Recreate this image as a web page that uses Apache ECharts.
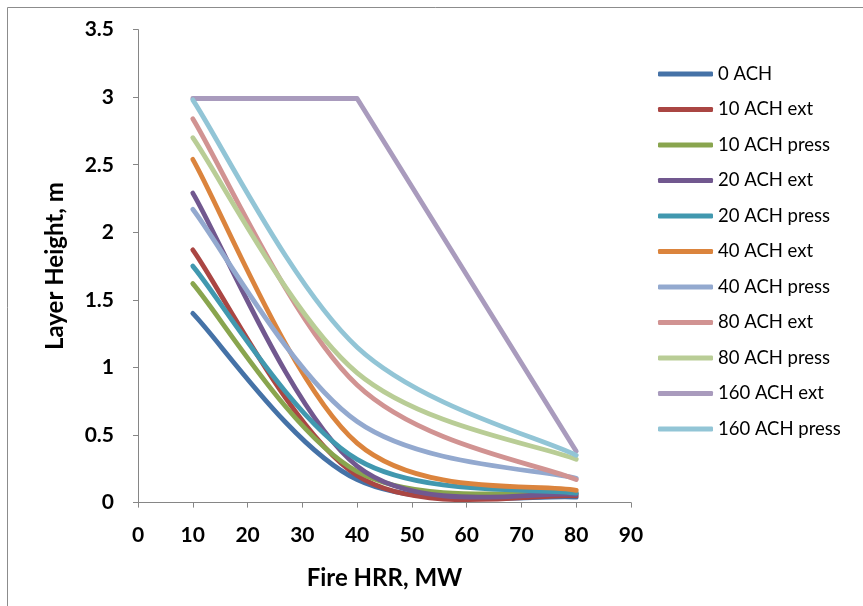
<!DOCTYPE html>
<html>
<head>
<meta charset="utf-8">
<script src="https://cdn.jsdelivr.net/npm/echarts@6/dist/echarts.min.js"></script>
<style>
html,body{margin:0;padding:0;background:#fff;}
#chart{width:863px;height:606px;}
</style>
</head>
<body>
<div id="chart"></div>
<script>
// Data
const hrr = [10, 40, 80];
const seriesNames = ['0 ACH', '10 ACH ext', '10 ACH press', '20 ACH ext', '20 ACH press',
  '40 ACH ext', '40 ACH press', '80 ACH ext', '80 ACH press', '160 ACH ext', '160 ACH press'];
const ach0 = [1.40, 0.17, 0.04];
const ach10ext = [1.87, 0.20, 0.05];
const ach10press = [1.62, 0.23, 0.07];
const ach20ext = [2.29, 0.27, 0.06];
const ach20press = [1.75, 0.32, 0.07];
const ach40ext = [2.54, 0.44, 0.09];
const ach40press = [2.17, 0.60, 0.18];
const ach80ext = [2.84, 0.87, 0.17];
const ach80press = [2.70, 0.96, 0.32];
const ach160ext = [2.99, 2.99, 0.38];
const ach160press = [2.98, 1.15, 0.35];
const xTicks = [0, 10, 20, 30, 40, 50, 60, 70, 80, 90];
const yTicks = [0, 0.5, 1, 1.5, 2, 2.5, 3, 3.5];

const colors = ['#4572A7', '#AA4643', '#89A54E', '#71588F', '#4198AF', '#DB843D',
  '#93A9CF', '#D19392', '#B9CD96', '#A99BBD', '#92C5D6'];

const values = [ach0, ach10ext, ach10press, ach20ext, ach20press, ach40ext, ach40press,
  ach80ext, ach80press, ach160ext, ach160press];
const smoothed = values.map((v, i) => i !== 9);

// Spreadsheet-style smoothed path (Catmull-Rom Bezier, 1/6 tension) through pixel points
function buildPath(pts, smooth) {
  let d = 'M' + pts[0][0] + ',' + pts[0][1];
  for (let i = 0; i < pts.length - 1; i++) {
    const p1 = pts[i], p2 = pts[i + 1];
    if (!smooth) { d += ' L' + p2[0] + ',' + p2[1]; continue; }
    const p0 = pts[i - 1] || p1;
    const p3 = pts[i + 2] || p2;
    const c1x = p1[0] + (p2[0] - p0[0]) / 6, c1y = p1[1] + (p2[1] - p0[1]) / 6;
    const c2x = p2[0] - (p3[0] - p1[0]) / 6, c2y = p2[1] - (p3[1] - p1[1]) / 6;
    d += ' C' + c1x + ',' + c1y + ' ' + c2x + ',' + c2y + ' ' + p2[0] + ',' + p2[1];
  }
  return d;
}

const series = values.map((vals, i) => ({
  name: seriesNames[i],
  type: 'custom',
  coordinateSystem: 'cartesian2d',
  encode: { x: 0, y: 1 },
  data: vals.map((v, j) => [hrr[j], v]),
  itemStyle: { color: colors[i] },
  renderItem: function (params, api) {
    if (params.dataIndex !== 0) return null;
    const pts = vals.map((v, j) => api.coord([hrr[j], v]));
    return {
      type: 'path',
      shape: { pathData: buildPath(pts, smoothed[i]) },
      style: { fill: 'none', stroke: colors[i], lineWidth: 4.8, lineCap: 'round', lineJoin: 'round' }
    };
  }
}));

const FONT = 'Lato, "Open Sans", "Liberation Sans", sans-serif';
const chart = echarts.init(document.getElementById('chart'), null, { renderer: 'canvas' });
chart.setOption({
  animation: false,
  backgroundColor: '#fff',
  color: colors,
  graphic: [{
    type: 'rect',
    shape: { x: 7.5, y: 7.5, width: 900, height: 700 },
    style: { fill: 'none', stroke: '#8c8c8c', lineWidth: 1 },
    silent: true
  }],
  grid: { left: 138, right: 232, top: 29.6, bottom: 103.4 },
  legend: {
    orient: 'vertical',
    left: 653,
    top: 59,
    icon: 'roundRect',
    itemWidth: 55,
    itemHeight: 5,
    itemGap: 15.5,
    textStyle: { fontFamily: FONT, fontSize: 18.5, color: '#000', lineHeight: 20 },
    data: seriesNames
  },
  xAxis: {
    type: 'value',
    min: xTicks[0],
    max: xTicks[xTicks.length - 1],
    interval: 10,
    name: 'Fire HRR, MW',
    nameLocation: 'middle',
    nameGap: 64,
    nameMoveOverlap: false,
    nameTextStyle: { fontFamily: FONT, fontSize: 24, fontWeight: 'bold', color: '#000' },
    axisLine: { show: true, lineStyle: { color: '#868686', width: 1 } },
    axisTick: { show: true, length: 5, inside: false, lineStyle: { color: '#868686' } },
    axisLabel: { margin: 22, fontFamily: FONT, fontSize: 21, fontWeight: 'bold', color: '#000' },
    splitLine: { show: false }
  },
  yAxis: {
    type: 'value',
    min: yTicks[0],
    max: yTicks[yTicks.length - 1],
    interval: 0.5,
    name: 'Layer Height, m',
    nameLocation: 'middle',
    nameGap: 71,
    nameMoveOverlap: false,
    nameTextStyle: { fontFamily: FONT, fontSize: 24, fontWeight: 'bold', color: '#000' },
    axisLine: { show: true, lineStyle: { color: '#868686', width: 1 } },
    axisTick: { show: true, length: 5, inside: false, lineStyle: { color: '#868686' } },
    axisLabel: { margin: 24, fontFamily: FONT, fontSize: 21, fontWeight: 'bold', color: '#000' },
    splitLine: { show: false }
  },
  series: series
});
</script>
</body>
</html>
